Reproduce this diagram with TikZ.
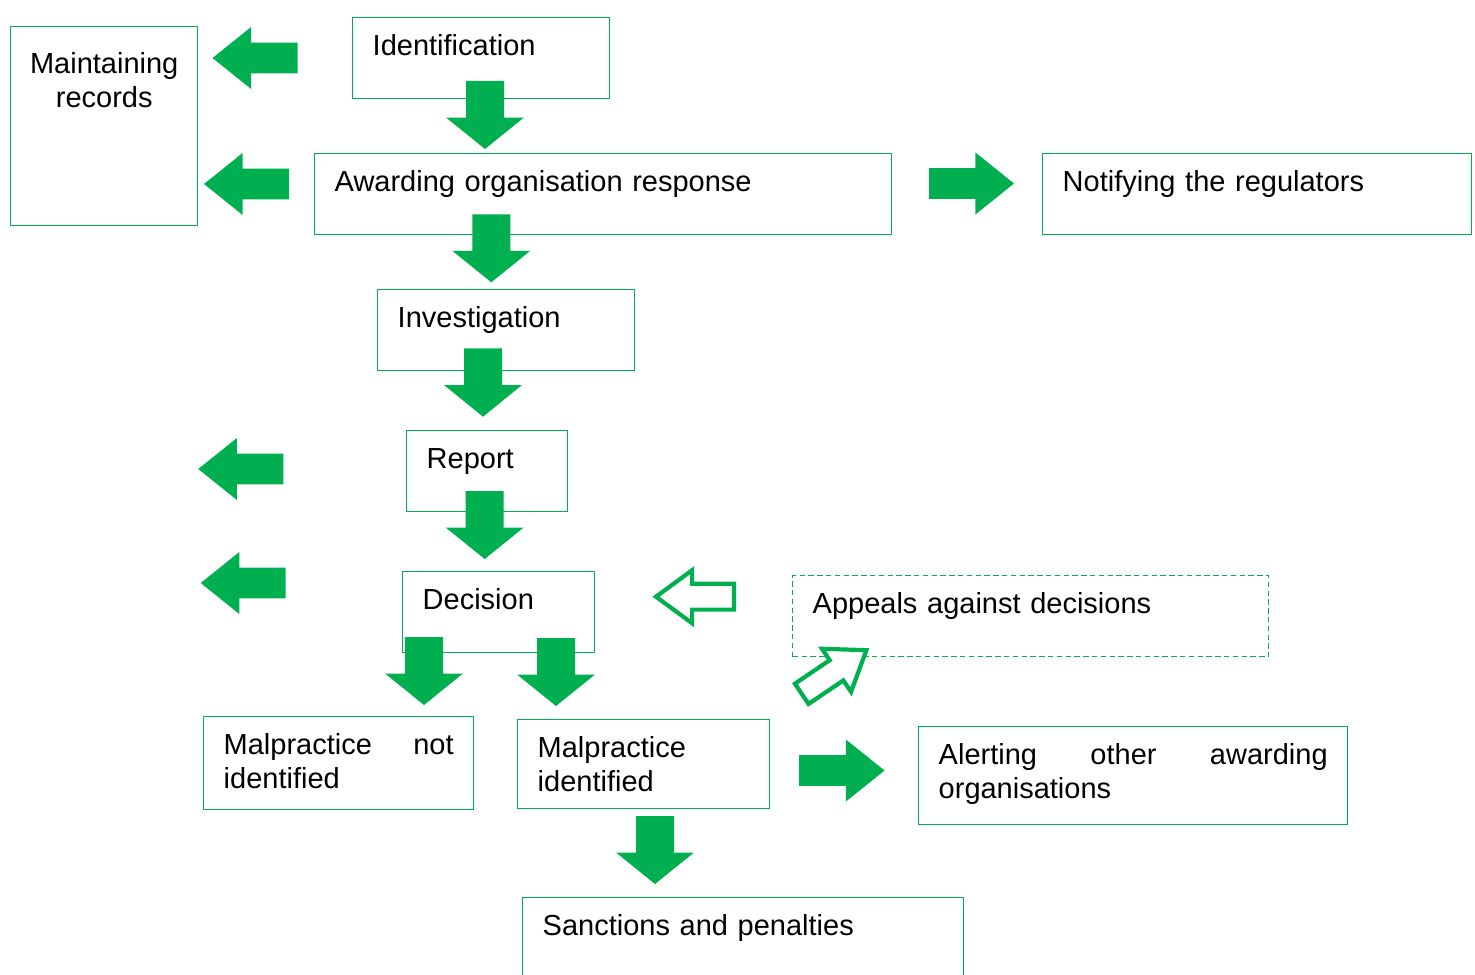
\documentclass[tikz,border=0pt]{standalone}
\usepackage{fontspec}
\setmainfont{Liberation Sans}
\definecolor{agreen}{RGB}{0,176,80}
\definecolor{bgreen}{RGB}{0,176,80}
% #1 style, #2 tail centre, #3 angle, #4 length, #5 shaft half width, #6 head half width, #7 head length
\newcommand{\blockarrow}[7]{%
  \begin{scope}[shift={#2}, rotate=#3]
    \path[#1] (0,-#5) -- ({#4-#7},-#5) -- ({#4-#7},-#6) -- (#4,0) -- ({#4-#7},#6) -- ({#4-#7},#5) -- (0,#5) -- cycle;
  \end{scope}}
\tikzset{
  box/.style={draw=bgreen, line width=0.7pt, anchor=north west, inner xsep=10pt, inner ysep=0pt,
    text height=19pt, align=left, text=black, font=\fontsize{14.5pt}{16.8pt}\selectfont},
  dashbox/.style={box, dash pattern=on 2.7pt off 1.7pt},
  solidarrow/.style={fill=agreen},
  hollowarrow/.style={draw=agreen, fill=white, line width=2.1pt},
}
\begin{document}
\begin{tikzpicture}[x=0.5pt, y=-0.5pt]
\useasboundingbox (0,0) rectangle (1475,974);
\clip (0,0) rectangle (1475,974);
\fill[white] (0,0) rectangle (1475,974);

% boxes
\node[box, inner xsep=5pt, text width=83.5pt, align=center, text height=23.5pt, text depth=76pt] (records) at (10,26) {Maintaining\\records};
\node[box, text width=108.5pt, text depth=21.5pt] (ident) at (352,17) {Identification};
\node[box, text width=268.5pt, text depth=21.5pt] (resp) at (314,153) {Awarding organisation response};
\node[box, text width=194.5pt, text depth=21.5pt] (notify) at (1042,153) {Notifying the regulators};
\node[box, text width=108.5pt, text depth=21.5pt] (invest) at (377,289) {Investigation};
\node[box, text width=60.5pt, text depth=21.5pt] (report) at (406,430) {Report};
\node[box, text width=76pt, text depth=21.5pt] (decision) at (402,571) {Decision};
\node[dashbox, text width=218pt, text depth=21.5pt] (appeals) at (792,575) {Appeals against decisions};
\node[box, text width=115pt, text depth=27.5pt] (notmal) at (203,716) {Malpractice\hfill not\\identified};
\node[box, text width=106pt, text depth=25.5pt] (mal) at (517,719) {Malpractice\\identified};
\node[box, text width=194.5pt, text depth=30pt] (alert) at (918,726) {Alerting\hfill other\hfill awarding\\organisations};
\node[box, text width=200.5pt, text depth=31pt] (sanction) at (522,897) {Sanctions and penalties};

% solid left arrows
\blockarrow{solidarrow}{(297.5,58)}{180}{85}{15.4}{31}{38.6}
\blockarrow{solidarrow}{(289,184)}{180}{85}{15.4}{31}{38.6}
\blockarrow{solidarrow}{(283.3,469)}{180}{85}{15.4}{31}{38.6}
\blockarrow{solidarrow}{(285.7,583)}{180}{85}{15.4}{31}{38.6}
% solid right arrows
\blockarrow{solidarrow}{(929,183.5)}{0}{85}{15.4}{31}{38.6}
\blockarrow{solidarrow}{(799,770.5)}{0}{85.5}{15.4}{31}{38.6}
% solid down arrows
\blockarrow{solidarrow}{(485,81)}{-90}{68}{19}{39}{31.5}
\blockarrow{solidarrow}{(491.3,214.3)}{-90}{68}{19}{39}{31.5}
\blockarrow{solidarrow}{(483,348.3)}{-90}{68.4}{19}{39}{31.7}
\blockarrow{solidarrow}{(484.7,491)}{-90}{68}{19}{39}{31.5}
\blockarrow{solidarrow}{(424,637)}{-90}{68}{19}{39}{31.5}
\blockarrow{solidarrow}{(556,638)}{-90}{68}{19}{39}{31.5}
\blockarrow{solidarrow}{(655,816)}{-90}{68}{19}{39}{31.5}
% hollow arrows
\blockarrow{hollowarrow}{(733.9,596.7)}{180}{77.9}{12.9}{26.5}{36.1}
\blockarrow{hollowarrow}{(801.7,693.8)}{34}{78}{12.2}{26}{36}
\end{tikzpicture}
\end{document}
